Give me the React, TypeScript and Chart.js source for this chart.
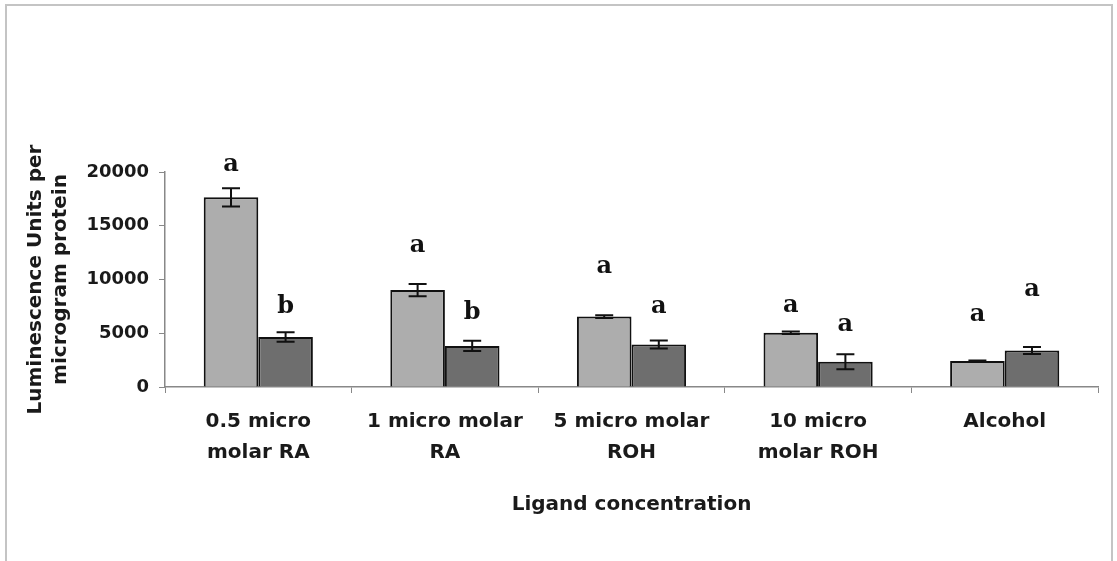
import React, { useEffect, useRef } from "react";
import { Chart, registerables } from "chart.js";

Chart.register(...registerables);

const categories: string[][] = [
  ["0.5 micro", "molar RA"],
  ["1 micro molar", "RA"],
  ["5 micro molar", "ROH"],
  ["10 micro", "molar ROH"],
  ["Alcohol"],
];
const seriesLight = [17650, 9020, 6550, 5050, 2420];
const seriesDark = [4650, 3820, 3950, 2350, 3400];
const errLight = [850, 570, 130, 120, 40];
const errDark = [450, 480, 370, 700, 330];
const lettersLight = ["a", "a", "a", "a", "a"];
const lettersDark = ["b", "b", "a", "a", "a"];
const letterYLight = [20650, 13100, 11150, 7530, 6700];
const letterYDark = [7450, 6900, 7440, 5770, 9020];
const yTicks = [0, 5000, 10000, 15000, 20000];

const errorsPlugin = {
  id: "errorsAndLetters",
  afterDatasetsDraw(chart: any) {
    const ctx = chart.ctx;
    const y = chart.scales.y;
    const errs = [errLight, errDark];
    const vals = [seriesLight, seriesDark];
    const letters = [lettersLight, lettersDark];
    const letterY = [letterYLight, letterYDark];
    ctx.save();
    for (let d = 0; d < 2; d++) {
      const meta = chart.getDatasetMeta(d);
      meta.data.forEach((bar: any, i: number) => {
        const x = bar.x;
        const top = y.getPixelForValue(vals[d][i] + errs[d][i]);
        const bot = y.getPixelForValue(vals[d][i] - errs[d][i]);
        ctx.strokeStyle = "#111";
        ctx.lineWidth = 2;
        ctx.beginPath();
        ctx.moveTo(x, top);
        ctx.lineTo(x, bot);
        ctx.moveTo(x - 9, top);
        ctx.lineTo(x + 9, top);
        ctx.moveTo(x - 9, bot);
        ctx.lineTo(x + 9, bot);
        ctx.stroke();
        ctx.fillStyle = "#111";
        ctx.font = "bold 24px 'DejaVu Serif'";
        ctx.textAlign = "center";
        ctx.textBaseline = "middle";
        ctx.fillText(letters[d][i], x, y.getPixelForValue(letterY[d][i]));
      });
    }
    ctx.restore();
  },
};

export default function App() {
  const ref = useRef<HTMLCanvasElement | null>(null);
  useEffect(() => {
    if (!ref.current) return;
    const chart = new Chart(ref.current, {
      type: "bar",
      data: {
        labels: categories,
        datasets: [
          {
            data: seriesLight,
            backgroundColor: "#adadad",
            borderColor: "#111",
            borderWidth: 2,
          },
          {
            data: seriesDark,
            backgroundColor: "#6e6e6e",
            borderColor: "#111",
            borderWidth: 2,
          },
        ],
      },
      options: {
        responsive: false,
        animation: false,
        layout: { padding: { top: 172, left: 0, right: 19, bottom: 0 } },
        plugins: { legend: { display: false }, tooltip: { enabled: false } },
        datasets: { bar: { categoryPercentage: 0.585, barPercentage: 1.0 } },
        scales: {
          x: {
            grid: { drawOnChartArea: false, color: "#888", tickLength: 6, offset: true },
            border: { color: "#888", width: 1.5 },
            ticks: {
              color: "#1a1a1a",
              padding: 13,
              font: { family: "'DejaVu Sans'", size: 20, weight: "bold", lineHeight: 1.55 },
              maxRotation: 0,
              autoSkip: false,
            },
            title: {
              display: true,
              text: "Ligand concentration",
              color: "#1a1a1a",
              font: { family: "'DejaVu Sans'", size: 20, weight: "bold", lineHeight: 1.2 },
              padding: { top: 0, bottom: 44 },
            },
            afterFit(scale: any) {
              scale.height = 174;
            },
          },
          y: {
            min: 0,
            max: 20000,
            afterBuildTicks(scale: any) {
              scale.ticks = yTicks.map((v) => ({ value: v }));
            },
            grid: { drawOnChartArea: false, color: "#888", tickLength: 6 },
            border: { color: "#888", width: 1.5 },
            ticks: {
              color: "#1a1a1a",
              padding: 10,
              font: { family: "'DejaVu Sans'", size: 18, weight: "bold" },
              callback: (v: any) => String(v),
            },
            title: {
              display: true,
              text: ["Luminescence Units per", "microgram protein"],
              color: "#1a1a1a",
              font: { family: "'DejaVu Sans'", size: 20, weight: "bold", lineHeight: 1.25 },
              padding: { top: 23, bottom: 0 },
            },
            afterFit(scale: any) {
              scale.width = 165;
            },
          },
        },
      },
      plugins: [errorsPlugin],
    } as any);
    return () => chart.destroy();
  }, []);
  return (
    <div style={{ position: "absolute", left: 0, top: 0, width: 1117, height: 561, overflow: "hidden", background: "#fff" }}>
      <div
        style={{
          position: "absolute",
          left: 5,
          top: 4,
          width: 1104,
          height: 600,
          border: "2px solid #c4c4c4",
        }}
      />
      <canvas ref={ref} width={1117} height={561} style={{ position: "absolute", left: 0, top: 0 }} />
    </div>
  );
}
